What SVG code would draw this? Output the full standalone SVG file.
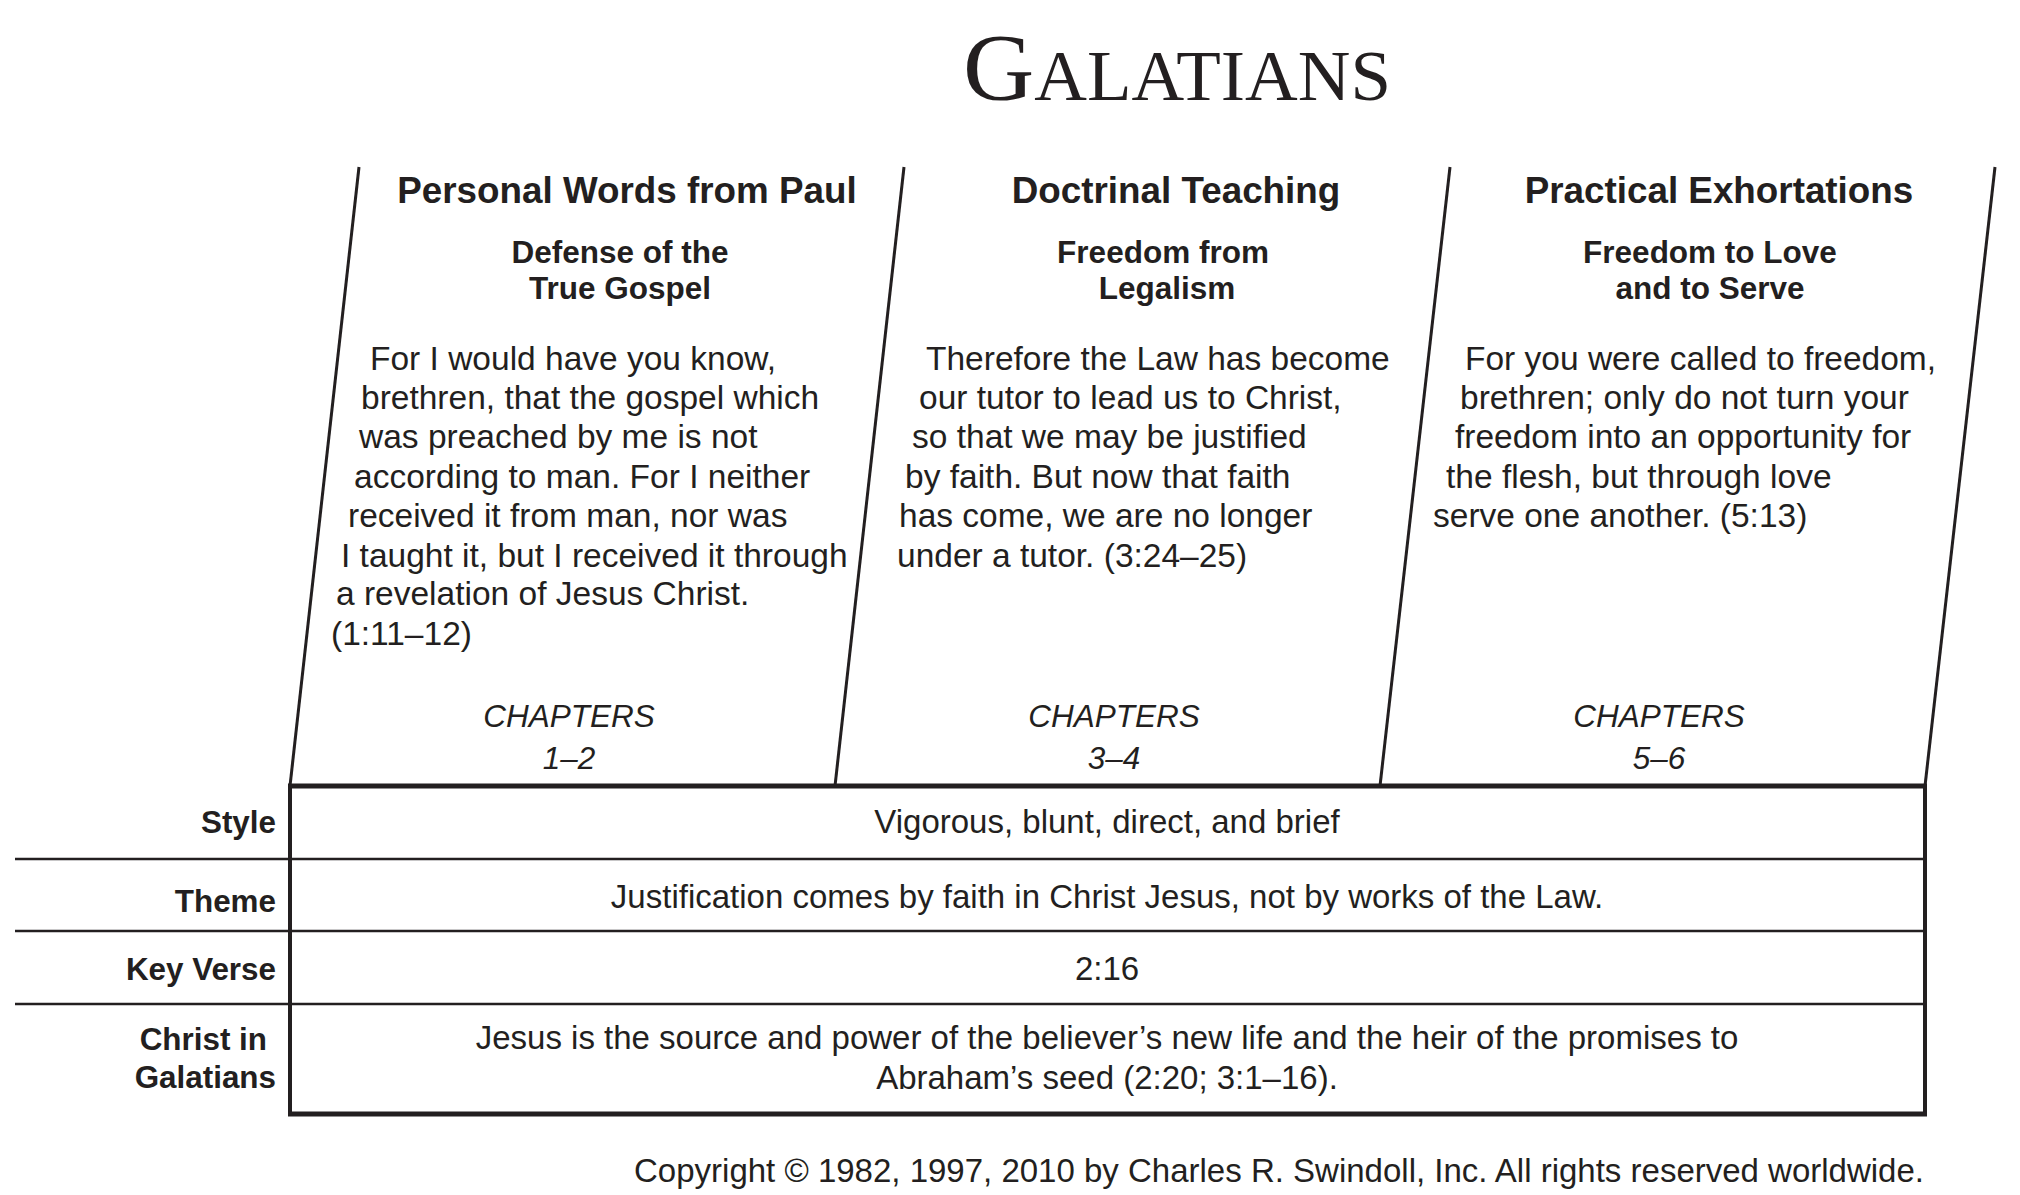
<svg xmlns="http://www.w3.org/2000/svg" width="2020" height="1195" viewBox="0 0 2020 1195">
<style>
.t{font-family:"Liberation Serif",serif;fill:#231f20}
.h{font-family:"Liberation Sans",Arial,sans-serif;font-weight:bold;font-size:36.8px;fill:#231f20;text-anchor:middle}
.s{font-family:"Liberation Sans",Arial,sans-serif;font-weight:bold;font-size:31.5px;fill:#231f20;text-anchor:middle}
.b{font-family:"Liberation Sans",Arial,sans-serif;font-size:33.5px;fill:#231f20}
.c{font-family:"Liberation Sans",Arial,sans-serif;font-style:italic;font-size:31.5px;fill:#231f20;text-anchor:middle}
.l{font-family:"Liberation Sans",Arial,sans-serif;font-weight:bold;font-size:31.4px;fill:#231f20;text-anchor:end}
.r{font-family:"Liberation Sans",Arial,sans-serif;font-size:33px;fill:#231f20;text-anchor:middle}
.cp{font-family:"Liberation Sans",Arial,sans-serif;font-size:33px;fill:#231f20;text-anchor:end}
.ln{stroke:#231f20;fill:none}
</style>
<rect width="2020" height="1195" fill="#fff"/>
<text id="title" class="t" x="963" y="100" textLength="428" lengthAdjust="spacingAndGlyphs"><tspan font-size="96">G</tspan><tspan font-size="71">ALATIANS</tspan></text>

<g id="connectors">
<line class="ln" stroke-width="3" x1="359" y1="167" x2="290" y2="786"/>
<line class="ln" stroke-width="3" x1="904" y1="167" x2="835" y2="786"/>
<line class="ln" stroke-width="3" x1="1450" y1="167" x2="1380" y2="786"/>
<line class="ln" stroke-width="3" x1="1995" y1="167" x2="1925" y2="786"/>
<line class="ln" stroke-width="5" x1="288" y1="786" x2="1927" y2="786"/>
<line class="ln" stroke-width="2.5" x1="15" y1="859" x2="1925" y2="859"/>
<line class="ln" stroke-width="2.5" x1="15" y1="931" x2="1925" y2="931"/>
<line class="ln" stroke-width="2.5" x1="15" y1="1004" x2="1925" y2="1004"/>
<line class="ln" stroke-width="4" x1="290" y1="786" x2="290" y2="1116"/>
<line class="ln" stroke-width="4" x1="1925" y1="786" x2="1925" y2="1116"/>
<line class="ln" stroke-width="5" x1="288" y1="1114" x2="1927" y2="1114"/>
</g>

<g id="col1">
<text class="h" x="627" y="203">Personal Words from Paul</text>
<text class="s" x="620" y="263">Defense of the</text>
<text class="s" x="620" y="299">True Gospel</text>
<text class="b" x="370" y="370">For I would have you know,</text>
<text class="b" x="361" y="409">brethren, that the gospel which</text>
<text class="b" x="359" y="448">was preached by me is not</text>
<text class="b" x="354" y="488">according to man. For I neither</text>
<text class="b" x="348" y="527">received it from man, nor was</text>
<text class="b" x="341" y="567">I taught it, but I received it through</text>
<text class="b" x="336" y="605">a revelation of Jesus Christ.</text>
<text class="b" x="331" y="645">(1:11–12)</text>
<text class="c" x="569" y="727">CHAPTERS</text>
<text class="c" x="569" y="769">1–2</text>
</g>

<g id="col2">
<text class="h" x="1176" y="203">Doctrinal Teaching</text>
<text class="s" x="1163" y="263">Freedom from</text>
<text class="s" x="1167" y="299">Legalism</text>
<text class="b" x="926" y="370">Therefore the Law has become</text>
<text class="b" x="919" y="409">our tutor to lead us to Christ,</text>
<text class="b" x="912" y="448">so that we may be justified</text>
<text class="b" x="905" y="488">by faith. But now that faith</text>
<text class="b" x="899" y="527">has come, we are no longer</text>
<text class="b" x="897" y="567">under a tutor. (3:24–25)</text>
<text class="c" x="1114" y="727">CHAPTERS</text>
<text class="c" x="1114" y="769">3–4</text>
</g>

<g id="col3">
<text class="h" x="1719" y="203">Practical Exhortations</text>
<text class="s" x="1710" y="263">Freedom to Love</text>
<text class="s" x="1710" y="299">and to Serve</text>
<text class="b" x="1465" y="370">For you were called to freedom,</text>
<text class="b" x="1460" y="409">brethren; only do not turn your</text>
<text class="b" x="1455" y="448">freedom into an opportunity for</text>
<text class="b" x="1446" y="488">the flesh, but through love</text>
<text class="b" x="1433" y="527">serve one another. (5:13)</text>
<text class="c" x="1659" y="727">CHAPTERS</text>
<text class="c" x="1659" y="769">5–6</text>
</g>

<g id="row-style">
<text class="l" x="276" y="833">Style</text>
<text class="r" x="1107" y="833">Vigorous, blunt, direct, and brief</text>
</g>
<g id="row-theme">
<text class="l" x="276" y="912">Theme</text>
<text class="r" x="1107" y="908">Justification comes by faith in Christ Jesus, not by works of the Law.</text>
</g>
<g id="row-keyverse">
<text class="l" x="276" y="980">Key Verse</text>
<text class="r" x="1107" y="980">2:16</text>
</g>
<g id="row-christ">
<text class="l" x="267" y="1050">Christ in</text>
<text class="l" x="276" y="1088">Galatians</text>
<text class="r" x="1107" y="1049">Jesus is the source and power of the believer’s new life and the heir of the promises to</text>
<text class="r" x="1107" y="1089">Abraham’s seed (2:20; 3:1–16).</text>
</g>
<text id="copyright" class="cp" x="1924" y="1182">Copyright © 1982, 1997, 2010 by Charles R. Swindoll, Inc. All rights reserved worldwide.</text>
</svg>
